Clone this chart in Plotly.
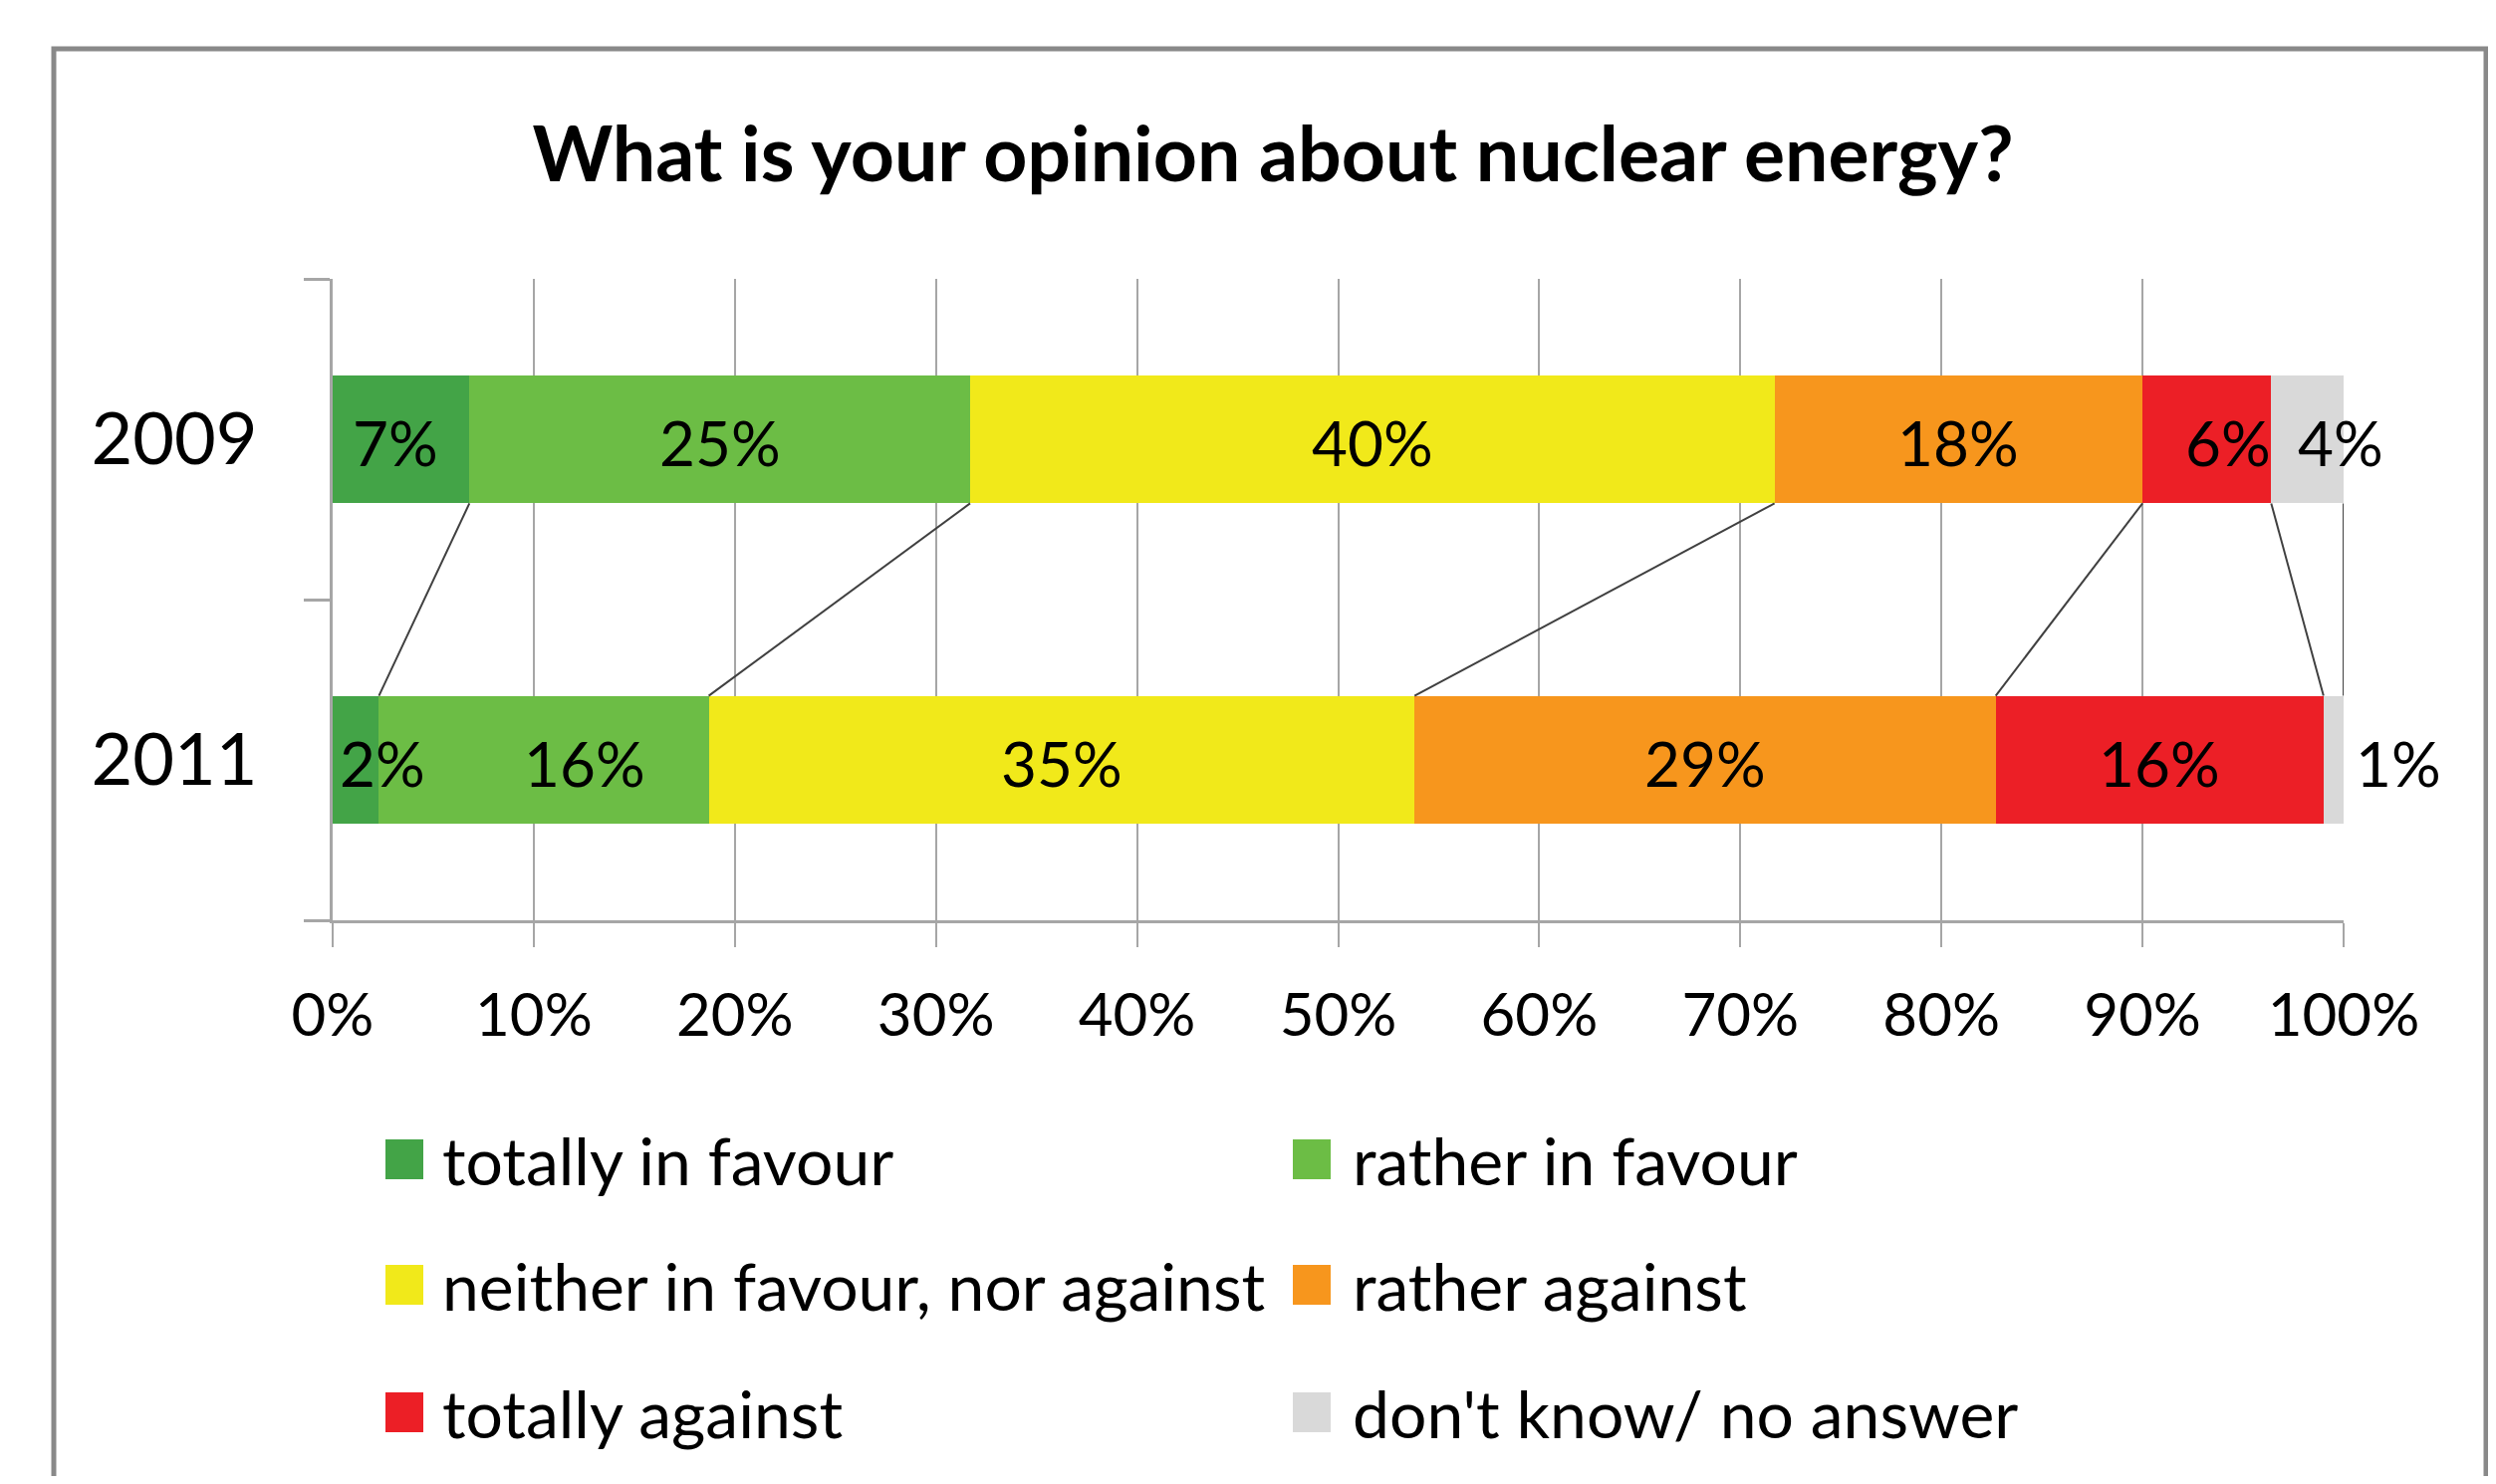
import plotly.graph_objects as go
import numpy as np

# ---------------- data ----------------
title_text = "What is your opinion about nuclear energy?"
years = ["2009", "2011"]
categories = ["totally in favour", "rather in favour", "neither in favour, nor against",
              "rather against", "totally against", "don't know/ no answer"]
values_2009 = [6.8, 24.9, 40.0, 18.3, 6.4, 3.6]
values_2011 = [2.3, 16.4, 35.1, 28.9, 16.3, 1.0]
labels_2009 = ["7%", "25%", "40%", "18%", "6%", "4%"]
labels_2011 = ["2%", "16%", "35%", "29%", "16%", "1%"]
x_ticks = [0, 10, 20, 30, 40, 50, 60, 70, 80, 90, 100]
x_tick_labels = ["0%", "10%", "20%", "30%", "40%", "50%", "60%", "70%", "80%", "90%", "100%"]

# label placement offsets from segment centre (styling, in axis units)
label_nudge_2009 = [-0.3, 0, 0, 0, 1.05, 1.65]
label_nudge_2011 = [1.35, 2.05, 0, 0, 0, 3.2]
label_dy = -0.01

colors = ["#43a447", "#6cbd45", "#f1e91a", "#f7961d", "#ec1f26", "#d9d9d9"]

X_RANGE = [0, 100]
Y_RANGE = [-0.5, 1.5]

# ---------------- layout geometry (pixels, page coords) ----------------
OFF = 8                      # default page body margin
W, H = 2506 - 2 * OFF, 1490 - 2 * OFF
PL, PR, PT, PB = 334 - OFF, 2353 - OFF, 280 - OFF, 924 - OFF   # plot area edges


def px_x(px):
    return (px - OFF - PL) / (PR - PL)


def px_y(py):
    return (PB - (py - OFF)) / (PB - PT)


def data_to_paper_x(v):
    return (v - X_RANGE[0]) / (X_RANGE[1] - X_RANGE[0])


def data_to_paper_y(v):
    return (v - Y_RANGE[0]) / (Y_RANGE[1] - Y_RANGE[0])


FONT = "Lato"
y_pos = [1, 0]        # 2009 on top, 2011 below
bar_w = 0.4

fig = go.Figure()

for i, cat in enumerate(categories):
    fig.add_trace(go.Bar(
        orientation="h",
        y=y_pos,
        x=[values_2009[i], values_2011[i]],
        name=cat,
        width=bar_w,
        marker=dict(color=colors[i], line=dict(width=0)),
        showlegend=False,
        hoverinfo="skip",
    ))

# series connector lines between the stacked bars
cum09 = np.cumsum(values_2009)
cum11 = np.cumsum(values_2011)
for i in range(len(categories)):
    fig.add_trace(go.Scatter(
        x=[cum09[i], cum11[i]],
        y=[y_pos[0] - bar_w / 2, y_pos[1] + bar_w / 2],
        mode="lines",
        line=dict(color="#404040", width=2),
        showlegend=False,
        hoverinfo="skip",
    ))

annotations = []
# data labels (positions derived from the cumulative values)
for vals, labs, nudges, yv in [(values_2009, labels_2009, label_nudge_2009, y_pos[0]),
                               (values_2011, labels_2011, label_nudge_2011, y_pos[1])]:
    cum = np.cumsum(vals)
    for v, c, lab, nd in zip(vals, cum, labs, nudges):
        annotations.append(dict(
            text=lab, xref="paper", yref="paper",
            x=float(data_to_paper_x(c - v / 2 + nd)),
            y=float(data_to_paper_y(yv + label_dy)),
            xanchor="center", yanchor="middle", showarrow=False,
            font=dict(family=FONT, size=62, color="black"),
        ))

# ---------------- custom legend ----------------
shapes = []
leg_col_marker = [387, 1298]
leg_col_text = [442, 1356]
leg_rows = [1164, 1290, 1418]
for i, cat in enumerate(categories):
    r, c = divmod(i, 2)
    cy = leg_rows[r]
    shapes.append(dict(
        type="rect", xref="paper", yref="paper",
        x0=px_x(leg_col_marker[c]), x1=px_x(leg_col_marker[c] + 38),
        y0=px_y(cy + 20), y1=px_y(cy - 20),
        fillcolor=colors[i], line=dict(width=0),
    ))
    annotations.append(dict(
        text=cat, xref="paper", yref="paper",
        x=px_x(leg_col_text[c]), y=px_y(cy),
        xanchor="left", yanchor="middle", showarrow=False,
        font=dict(family=FONT, size=66, color="black"),
    ))

# outer border
shapes.append(dict(
    type="rect", xref="paper", yref="paper",
    x0=px_x(54), x1=px_x(2496), y0=px_y(1560), y1=px_y(49),
    line=dict(color="#898989", width=5), fillcolor="rgba(0,0,0,0)", layer="below",
))

fig.update_layout(
    width=W, height=H,
    margin=dict(l=PL, r=W - PR, t=PT, b=H - PB, autoexpand=False),
    paper_bgcolor="white", plot_bgcolor="white",
    barmode="stack",
    showlegend=False,
    title=dict(
        text=title_text,
        x=(1278 - OFF) / W, xanchor="center",
        y=1 - (155 - OFF) / H, yanchor="middle",
        font=dict(family=FONT, size=77, color="black", weight="bold"),
    ),
    xaxis=dict(
        range=X_RANGE,
        tickvals=x_ticks, ticktext=x_tick_labels,
        showgrid=True, gridcolor="#a6a6a6", gridwidth=2,
        showline=True, linecolor="#a6a6a6", linewidth=3,
        ticks="outside", ticklen=24, tickwidth=2, tickcolor="#a6a6a6",
        tickfont=dict(family=FONT, size=60, color="black"),
        ticklabelstandoff=17,
        zeroline=False, fixedrange=True,
    ),
    yaxis=dict(
        range=Y_RANGE,
        tickvals=y_pos, ticktext=years,
        ticks="", showgrid=False, zeroline=False,
        showline=True, linecolor="#a6a6a6", linewidth=3,
        tickfont=dict(family=FONT, size=72, color="black"),
        ticklabelstandoff=58,
        minor=dict(tickvals=[-0.5, 0.5, 1.5], ticks="outside", ticklen=26,
                   tickwidth=3, tickcolor="#a6a6a6", showgrid=False),
        fixedrange=True,
    ),
    shapes=shapes,
    annotations=annotations,
)

fig.write_html("out.html")
